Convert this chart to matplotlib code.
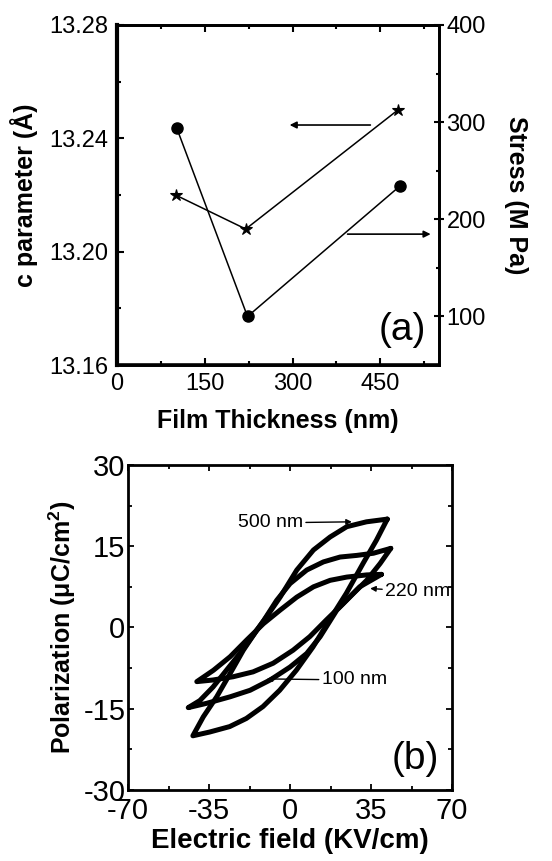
import matplotlib
matplotlib.use("Agg")
import matplotlib.pyplot as plt
from matplotlib.ticker import MultipleLocator, FormatStrFormatter

plt.rcParams['font.family'] = ['Liberation Sans', 'DejaVu Sans']
plt.rcParams['mathtext.fontset'] = 'custom'
plt.rcParams['mathtext.rm'] = 'Liberation Sans'
plt.rcParams['mathtext.bf'] = 'Liberation Sans:bold'
plt.rcParams['mathtext.default'] = 'bf'
plt.rcParams['axes.unicode_minus'] = False

# ---- (a) lattice parameter and stress vs film thickness ----
thickness = [100, 220, 480]
c_param = [13.220, 13.208, 13.250]
thickness_stress = [102, 223, 483]
stress = [294, 100, 234]

# ---- (b) P-E hysteresis loops (closed paths: upper branch then lower branch) ----
E_500 = [42, 33, 24.5, 17.3, 10.1, 2.9, -4.3, -10.1, -14.4, -20.2, -25.9, -31.7, -37.5, -42,
         -34.7, -26.1, -18.9, -11.7, -4.5, 2.7, 9.9, 17.1, 24.3, 31.5, 37.3, 42]
P_500 = [20, 19.5, 18.6, 16.7, 14.3, 10.6, 5.6, 2.0, -0.5, -4.2, -8.5, -12.8, -16.5, -20,
         -19.3, -18.3, -16.8, -14.6, -11.6, -7.9, -3.6, 1.4, 6.3, 11.8, 16.1, 20]

E_220 = [43.5, 36, 28.8, 21.6, 14.4, 7.2, 0, -5.8, -11.5, -16, -21.7, -27.5, -33.3, -39, -44,
         -36, -25.9, -17.3, -8.6, 0, 7.2, 13, 20.2, 27.4, 33.1, 38.9, 43.5]
P_220 = [14.6, 13.7, 13.3, 13.0, 12.1, 10.6, 8.1, 5.0, 1.2, -1.5, -4.8, -7.9, -11.0, -13.5, -14.8,
         -14, -12.8, -11.6, -9.7, -7.3, -4.8, -1.7, 3.2, 6.3, 8.7, 11.8, 14.6]

E_100 = [39.5, 33.1, 24.5, 17.3, 10.1, 2.9, -4.3, -11.5, -18.7, -25.9, -33.1, -40.3,
         -33.3, -24.6, -16, -7.3, 1.3, 8.5, 15.7, 22.9, 30.1, 39.5]
P_100 = [9.8, 9.7, 9.3, 8.7, 7.5, 5.6, 3.2, 0.7, -2.3, -5.4, -7.9, -10,
         -9.7, -9.1, -8.2, -6.6, -4.2, -1.7, 1.4, 4.4, 7.5, 9.8]

fig = plt.figure(figsize=(5.52, 8.61), dpi=100)

# ================= panel (a) =================
ax = fig.add_axes([0.212, 0.576, 0.583, 0.395])
ax.plot(thickness, c_param, '-', color='k', lw=1.1, marker='*', ms=9,
        mfc='k', mec='k', mew=0.8, zorder=3)
ax.set_xlim(0, 550)
ax.set_ylim(13.16, 13.28)
ax.xaxis.set_major_locator(MultipleLocator(150))
ax.xaxis.set_minor_locator(MultipleLocator(75))
ax.yaxis.set_major_locator(MultipleLocator(0.04))
ax.yaxis.set_minor_locator(MultipleLocator(0.02))
ax.yaxis.set_major_formatter(FormatStrFormatter('%.2f'))
ax.tick_params(axis='both', which='both', direction='in', top=True, labelsize=17, pad=6)
ax.tick_params(axis='both', which='major', length=5, width=1.5)
ax.tick_params(axis='both', which='minor', length=3, width=1.5)
ax.tick_params(axis='y', right=False)
for s in ax.spines.values():
    s.set_linewidth(2.0)
ax.spines['left'].set_linewidth(3.0)
ax.spines['bottom'].set_linewidth(2.6)
ax.set_xlabel('Film Thickness (nm)', fontsize=18, fontweight='bold', labelpad=10)
ax.set_ylabel('c parameter (Å)', fontsize=18, fontweight='bold', labelpad=8)

ax2 = ax.twinx()
ax2.plot(thickness_stress, stress, '-', color='k', lw=1.1, marker='o', ms=8,
         mfc='k', mec='k', zorder=3)
ax2.set_ylim(50, 400)
ax2.yaxis.set_major_locator(MultipleLocator(100))
ax2.yaxis.set_minor_locator(MultipleLocator(50))
ax2.tick_params(axis='y', which='major', direction='inout', length=7, width=1.5,
                labelsize=17, pad=2)
ax2.tick_params(axis='y', which='minor', direction='in', length=2, width=1.5)
for s in ax2.spines.values():
    s.set_linewidth(2.0)
ax2.set_ylabel('Stress (M Pa)', fontsize=18, fontweight='bold', rotation=270, labelpad=30)

ax.annotate('', xy=(295, 13.2447), xytext=(433, 13.2447),
            arrowprops=dict(arrowstyle='-|>', color='k', lw=1.2, mutation_scale=10,
                            shrinkA=0, shrinkB=0))
ax.annotate('', xy=(536, 13.2062), xytext=(394, 13.2062),
            arrowprops=dict(arrowstyle='-|>', color='k', lw=1.2, mutation_scale=10,
                            shrinkA=0, shrinkB=0))
ax.text(0.96, 0.05, '(a)', transform=ax.transAxes, ha='right', va='bottom', fontsize=28)

# ================= panel (b) =================
bx = fig.add_axes([0.232, 0.0825, 0.587, 0.3775])
for E, P in [(E_500, P_500), (E_220, P_220), (E_100, P_100)]:
    bx.plot(E, P, '-', color='k', lw=3.6, solid_joinstyle='round', solid_capstyle='round')
bx.set_xlim(-70, 70)
bx.set_ylim(-30, 30)
bx.xaxis.set_major_locator(MultipleLocator(35))
bx.xaxis.set_minor_locator(MultipleLocator(17.5))
bx.yaxis.set_major_locator(MultipleLocator(15))
bx.yaxis.set_minor_locator(MultipleLocator(7.5))
bx.tick_params(axis='both', which='both', direction='in', top=True, right=True,
               labelsize=21, pad=2, width=1.3)
bx.tick_params(axis='x', which='major', pad=5)
bx.tick_params(axis='both', which='major', length=4)
bx.tick_params(axis='both', which='minor', length=3)
for s in bx.spines.values():
    s.set_linewidth(2.0)
bx.set_xlabel('Electric field (KV/cm)', fontsize=20, fontweight='bold', labelpad=2)
bx.set_ylabel(r'Polarization ($\mathbf{\mu}$C/cm$^{2}$)', fontsize=18, fontweight='bold',
              labelpad=4)

arrow_kw = dict(arrowstyle='-|>', color='k', lw=1.0, mutation_scale=8, shrinkA=0, shrinkB=0)
bx.annotate('500 nm', xy=(26.7, 19.5), xytext=(-22.5, 19.3), fontsize=14,
            ha='left', va='center', arrowprops=arrow_kw)
bx.annotate('220 nm', xy=(34.6, 7.2), xytext=(41.0, 6.6), fontsize=14,
            ha='left', va='center', arrowprops=arrow_kw)
bx.annotate('100 nm', xy=(-10.1, -9.5), xytext=(13.6, -9.7), fontsize=14,
            ha='left', va='center', arrowprops=arrow_kw)
bx.text(0.96, 0.04, '(b)', transform=bx.transAxes, ha='right', va='bottom', fontsize=28)

fig.savefig('out.png', dpi=100)
